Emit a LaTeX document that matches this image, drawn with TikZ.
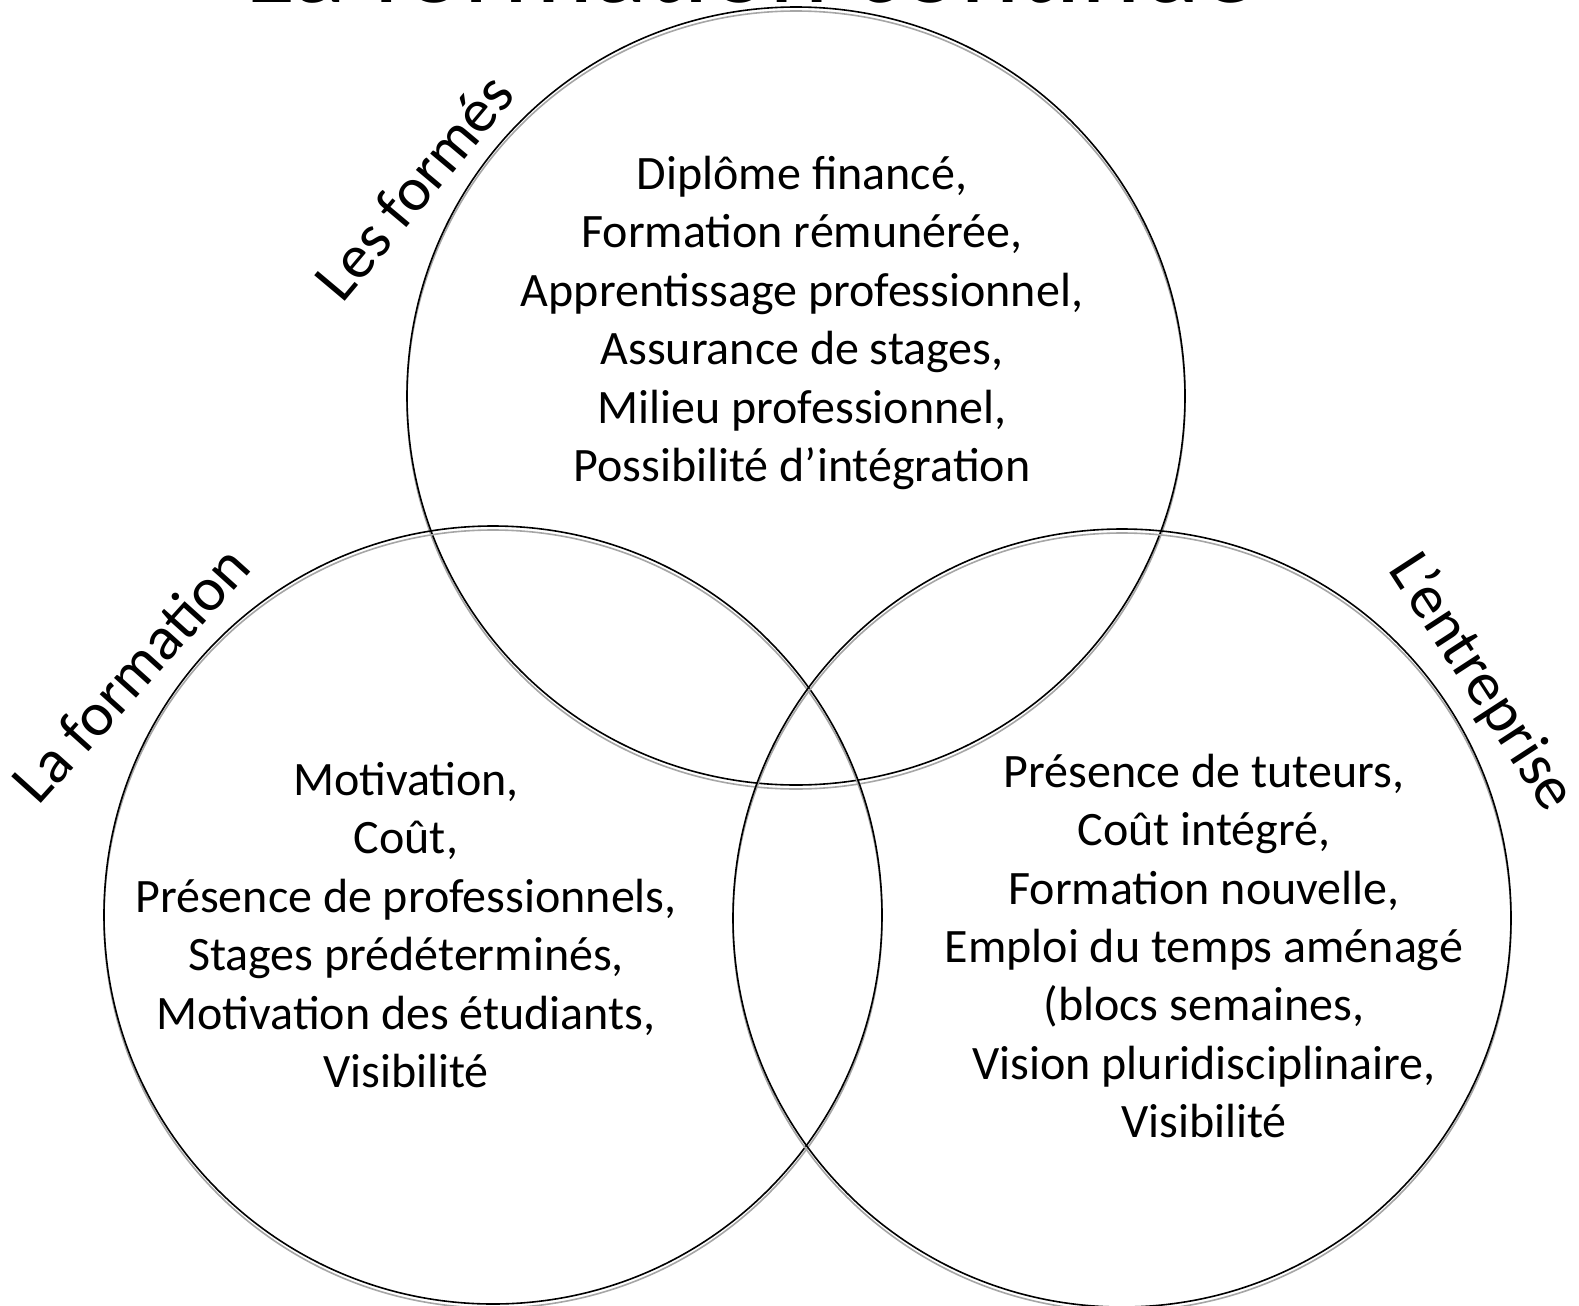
\documentclass[tikz,border=0pt]{standalone}
\usepackage{fontspec}
\setmainfont{Carlito}
\tikzset{
  cercle/.style={draw=black, line width=0.8pt},
  ombre/.style={draw=black!35, line width=0.8pt, yshift=-2pt},
  liste/.style={align=center, inner sep=0pt, font=\fontsize{24}{29.2}\selectfont},
  partie/.style={anchor=base, inner sep=0pt, font=\fontsize{31}{37}\selectfont},
  titre/.style={anchor=base, inner sep=0pt, font=\fontsize{56.5}{68}\selectfont}
}
\begin{document}
\begin{tikzpicture}[x=0.5pt, y=-0.5pt]
  \useasboundingbox (0,0) rectangle (1579,1306);
  \node[titre] (titre) at (751,3) {La formation continue};
  % les trois cercles
  \foreach \cx/\cy in {796/396, 493/915, 1122/918} {
    \draw[ombre] (\cx,\cy) circle (389);
    \draw[cercle] (\cx,\cy) circle (389);
  }
  % noms des parties
  \draw
    (430,200) node[partie, rotate=50] (formes) {Les formés}
    (146,688) node[partie, rotate=48] (formation) {La formation}
    (1467,692) node[partie, rotate=-57] (entreprise) {L’entreprise};
  % contenu des cercles
  \node[liste] (avFormes) at (802,323) {Diplôme financé,\\ Formation rémunérée,\\ Apprentissage professionnel,\\ Assurance de stages,\\ Milieu professionnel,\\ Possibilité d’intégration};
  \node[liste] (avFormation) at (406,925) {Motivation,\\ Coût,\\ Présence de professionnels,\\ Stages prédéterminés,\\ Motivation des étudiants,\\ Visibilité};
  \node[liste] (avEntreprise) at (1204,946) {Présence de tuteurs,\\ Coût intégré,\\ Formation nouvelle,\\ Emploi du temps aménagé\\ (blocs semaines,\\ Vision pluridisciplinaire,\\ Visibilité};
\end{tikzpicture}
\end{document}
